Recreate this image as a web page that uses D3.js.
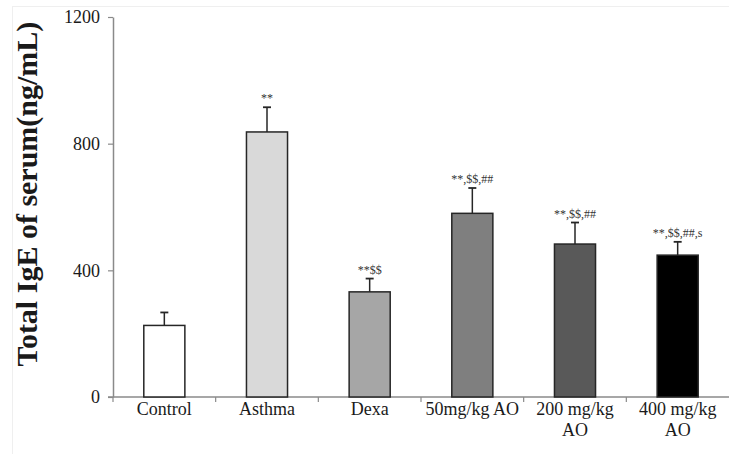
<!DOCTYPE html>
<html>
<head>
<meta charset="utf-8">
<script src="https://cdn.jsdelivr.net/npm/d3@7"></script>
<style>
	body { margin: 0; background: #fff; }
	svg { display: block; font-family: 'Liberation Serif', 'Times New Roman', serif; }
</style>
</head>
<body>
<div id="chart"></div>
<script>
const groups = ['Control', 'Asthma', 'Dexa', '50mg/kg AO', '200 mg/kg\nAO', '400 mg/kg\nAO'];
const means = [226, 837, 332, 580, 483, 448];
const errors = [41, 78, 42, 80, 68, 42];
const marks = ['', '**', '**$$', '**,$$,##', '**,$$,##', '**,$$,##,s'];
const fills = ['#ffffff', '#d9d9d9', '#a6a6a6', '#7f7f7f', '#595959', '#000000'];
const yTicks = [0, 400, 800, 1200];

(() => {
	const W = 729;
	const H = 454;
	const margin = { top: 17, right: 0, bottom: 57, left: 113 };
	const width = W - margin.left - margin.right;
	const height = H - margin.top - margin.bottom;

	const svg = d3.select('#chart').append('svg')
		.attr('width', W)
		.attr('height', H);

	// faint frame of the scanned figure
	svg.append('rect')
		.attr('x', 12.5)
		.attr('y', 6.5)
		.attr('width', W)
		.attr('height', H)
		.style('fill', 'none')
		.style('stroke', '#efefef');

	const chart = svg.append('g')
		.attr('transform', `translate(${margin.left}, ${margin.top})`);

	const x = d3.scaleBand()
		.domain(groups)
		.range([0, width])
		.paddingInner(0)
		.paddingOuter(0);
	const y = d3.scaleLinear()
		.domain([0, 1200])
		.range([height, 0]);

	const barW = x.bandwidth() * 0.4;

	// x axis: ticks on band edges
	const xAxisG = chart.append('g')
		.attr('transform', `translate(0, ${height})`);
	xAxisG.append('line')
		.attr('x1', -5).attr('x2', width)
		.style('stroke', '#8a8a8a')
		.style('stroke-width', 1.5);
	xAxisG.selectAll('.xt')
		.data(groups)
		.enter().append('line')
		.attr('class', 'xt')
		.attr('x1', d => x(d)).attr('x2', d => x(d))
		.attr('y1', 0).attr('y2', 5)
		.style('stroke', '#8a8a8a')
		.style('stroke-width', 1.2);
	xAxisG.selectAll('.xl')
		.data(groups)
		.enter().append('text')
		.attr('class', 'xl')
		.attr('x', d => x(d) + x.bandwidth() / 2)
		.attr('y', 18)
		.style('text-anchor', 'middle')
		.style('font-size', '18px')
		.style('fill', '#1a1a1a')
		.each(function(d) {
			const lines = d.split('\n');
			d3.select(this).selectAll('tspan')
				.data(lines)
				.enter().append('tspan')
				.attr('x', x(d) + x.bandwidth() / 2)
				.attr('dy', (l, i) => i === 0 ? 0 : 21)
				.text(l => l);
		});

	const yAxis = d3.axisLeft(y)
		.tickValues(yTicks)
		.tickFormat(d3.format('d'))
		.tickSize(5)
		.tickPadding(8)
		.tickSizeOuter(0);
	const yAxisG = chart.append('g').call(yAxis);
	yAxisG.select('.domain')
		.style('stroke', '#8a8a8a')
		.style('stroke-width', 1.5);
	yAxisG.selectAll('.tick line')
		.style('stroke', '#8a8a8a')
		.style('stroke-width', 1.2);
	yAxisG.selectAll('.tick text')
		.style('font-family', "'Liberation Serif', 'Times New Roman', serif")
		.style('font-size', '18px')
		.style('fill', '#1a1a1a');

	// bars
	chart.selectAll('.bar')
		.data(groups)
		.enter().append('rect')
		.attr('class', 'bar')
		.attr('x', d => x(d) + (x.bandwidth() - barW) / 2)
		.attr('y', (d, i) => y(means[i]))
		.attr('width', barW)
		.attr('height', (d, i) => height - y(means[i]))
		.style('fill', (d, i) => fills[i])
		.style('stroke', '#262626')
		.style('stroke-width', 1.5);

	// error bars (upper only)
	const err = chart.selectAll('.err')
		.data(groups)
		.enter().append('g')
		.attr('class', 'err')
		.attr('transform', d => `translate(${x(d) + x.bandwidth() / 2}, 0)`);
	err.append('line')
		.attr('y1', (d, i) => y(means[i]))
		.attr('y2', (d, i) => y(means[i] + errors[i]))
		.style('stroke', '#262626')
		.style('stroke-width', 1.5);
	err.append('line')
		.attr('x1', -4).attr('x2', 4)
		.attr('y1', (d, i) => y(means[i] + errors[i]))
		.attr('y2', (d, i) => y(means[i] + errors[i]))
		.style('stroke', '#262626')
		.style('stroke-width', 1.8);
	err.append('text')
		.attr('y', (d, i) => y(means[i] + errors[i]) - 5)
		.style('text-anchor', 'middle')
		.style('font-size', '12px')
		.style('fill', '#333')
		.text((d, i) => marks[i]);

	// y title
	svg.append('text')
		.attr('transform', 'translate(37, 194) rotate(-90)')
		.style('text-anchor', 'middle')
		.style('font-weight', 700)
		.style('font-size', '30px')
		.style('fill', '#1a1a1a')
		.text('Total IgE of serum(ng/mL)');
})();
</script>
</body>
</html>
